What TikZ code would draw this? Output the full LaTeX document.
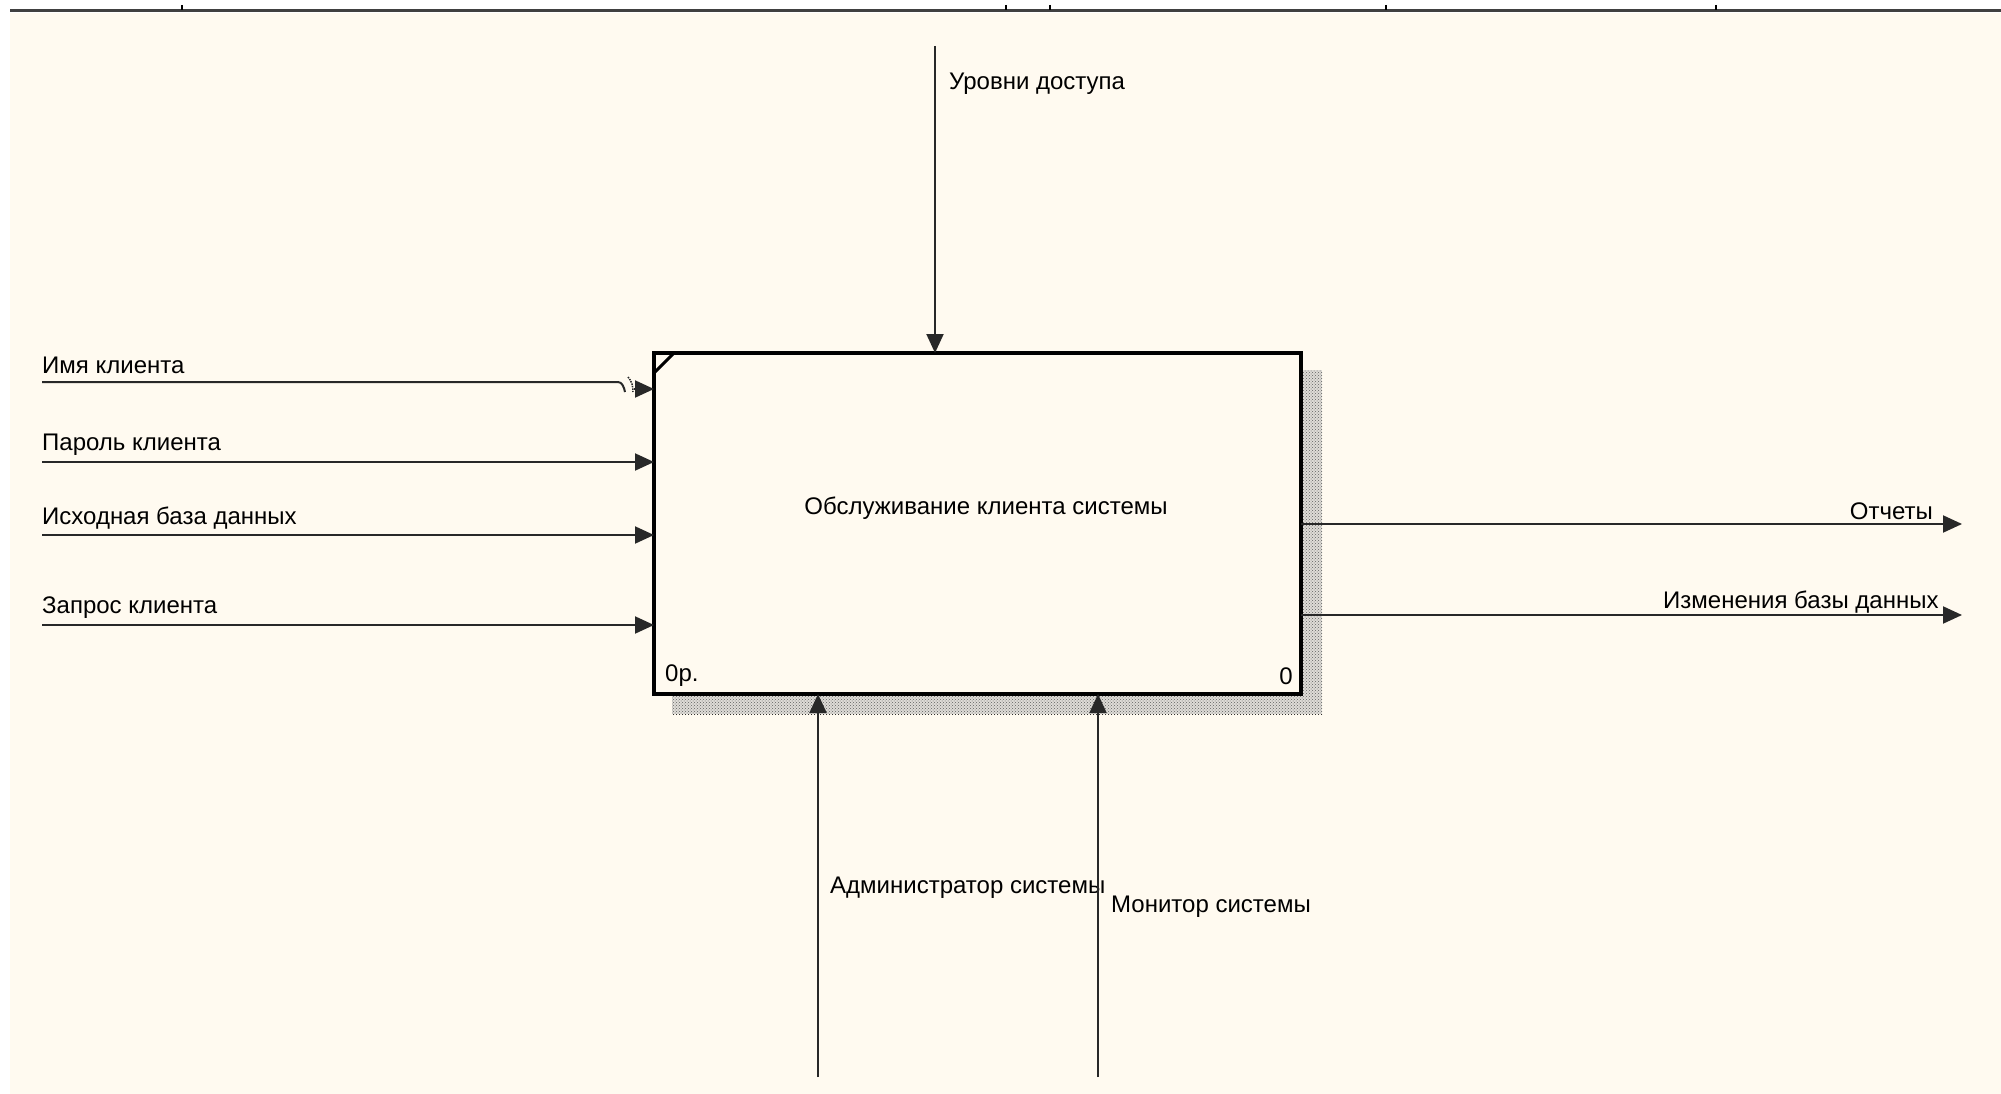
\documentclass[tikz,border=0pt]{standalone}
\usepackage{fontspec}
\setmainfont{Liberation Sans}
\usetikzlibrary{arrows.meta,patterns}
\definecolor{bgcream}{RGB}{255,250,240}
\definecolor{linegray}{RGB}{40,40,40}
\begin{document}
\begin{tikzpicture}[x=1pt,y=-1pt,
  lbl/.style={inner sep=0pt,font=\fontsize{24}{28}\selectfont,text=black},
  conn/.style={draw=linegray,line width=2pt},
  arr/.style={conn,-{Triangle[length=19pt,width=17pt]}},
  ]
\useasboundingbox (0,0) rectangle (2001,1094);
\fill[white] (0,0) rectangle (2001,1094);
\fill[bgcream] (10,13) rectangle (2001,1094);
% top ruler
\draw[line width=3pt,draw=black!75] (10,11) -- (2001,11);
\foreach \tx in {182,1006,1050,1386,1716}
  \draw[line width=1.5pt,black] (\tx,5) -- (\tx,10);
% shadow
\fill[pattern=crosshatch dots,pattern color=black] (672,370) rectangle (1322,714);
\fill[black!25,opacity=0.5] (672,370) rectangle (1322,714);
% box
\node[draw=black,line width=4pt,fill=bgcream,minimum width=647pt,minimum height=341pt,inner sep=0pt,outer sep=0pt,anchor=north west] (box) at (654,353) {};
\draw[line width=3pt] (655,372) -- (673,354);
\node[lbl] (title) at (986,508) {Обслуживание клиента системы};
\node[lbl,anchor=west] (opr) at (665,676) {0р.};
\node[lbl,anchor=east] (num) at (1293,676) {0};
% top control
\coordinate (ctop) at (935,46);
\draw[arr] (ctop) -- (ctop |- box.north);
\node[lbl,anchor=west] (lctrl) at (949,84) {Уровни доступа};
% inputs
\coordinate (in1) at (42,382);
\coordinate (in1a) at (618,382);
\coordinate (in1b) at (634,389);
\draw[conn] (in1) -- (in1a) .. controls (622,382) and (624,387) .. (625,392);
\draw[linegray,line width=1.5pt,densely dotted] (628,377) .. controls (632,381) and (633,387) .. (633,392);
\draw[arr] (in1b) -- (in1b -| box.west);
\node[lbl,anchor=west] (l1) at (42,365) {Имя клиента};
\coordinate (in2) at (42,462);
\draw[arr] (in2) -- (in2 -| box.west);
\node[lbl,anchor=west] (l2) at (42,445) {Пароль клиента};
\coordinate (in3) at (42,535);
\draw[arr] (in3) -- (in3 -| box.west);
\node[lbl,anchor=west] (l3) at (42,518) {Исходная база данных};
\coordinate (in4) at (42,625);
\draw[arr] (in4) -- (in4 -| box.west);
\node[lbl,anchor=west] (l4) at (42,608) {Запрос клиента};
% outputs
\coordinate (out1) at (1962,524);
\draw[arr] (out1 -| box.east) -- (out1);
\node[lbl,anchor=east] (lo1) at (1933,511) {Отчеты};
\coordinate (out2) at (1962,615);
\draw[arr] (out2 -| box.east) -- (out2);
\node[lbl,anchor=west] (lo2) at (1663,602) {Изменения базы данных};
% mechanisms
\coordinate (m1) at (818,1077);
\draw[arr] (m1) -- (m1 |- box.south);
\node[lbl,anchor=west] (lm1) at (830,888) {Администратор системы};
\coordinate (m2) at (1098,1077);
\draw[arr] (m2) -- (m2 |- box.south);
\node[lbl,anchor=west] (lm2) at (1111,907) {Монитор системы};
\end{tikzpicture}
\end{document}
